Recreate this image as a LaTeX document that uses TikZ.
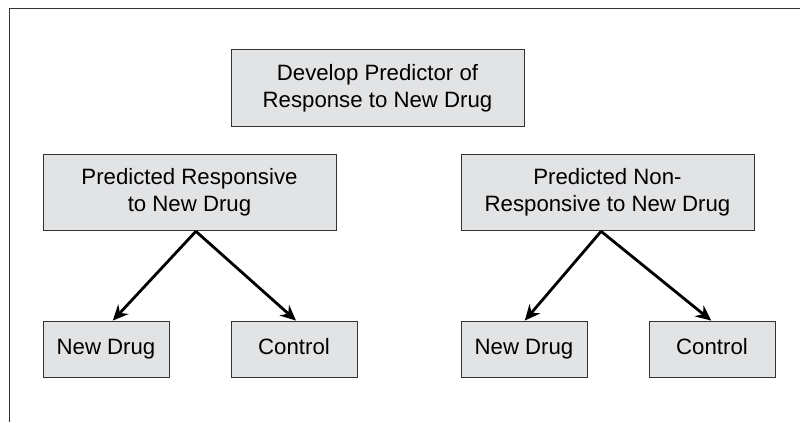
\documentclass[tikz,border=0pt]{standalone}
\usepackage{fontspec}
\setmainfont{Liberation Sans}
\usepackage{tikz}
\usetikzlibrary{arrows.meta}
\definecolor{boxfill}{HTML}{E2E3E5}
\definecolor{boxline}{HTML}{333333}
\tikzset{
  trialbox/.style={draw=boxline, fill=boxfill, line width=0.6pt, align=center,
    inner sep=0pt, font=\fontsize{15.8}{19}\selectfont},
  wide/.style={trialbox, minimum width=7.325cm, minimum height=1.92cm},
  arm/.style={trialbox, minimum width=3.15cm, minimum height=1.4cm,
    text height=0.72em, text depth=0pt},
  split/.style={line width=2pt, -{Stealth[length=11pt, width=10pt]}}
}
\begin{document}
\begin{tikzpicture}
\useasboundingbox (0,0) rectangle (20,10.55);
\draw [boxline, line width=0.6pt] (0.225,0) -- (0.225,10.35) -- (20,10.35);
\node [wide] (predictor) at (9.4375,8.35) {Develop Predictor of\\Response to New Drug};
\node [wide] (resp) at (4.7375,5.7375) {Predicted Responsive\\to New Drug};
\node [wide] (nonresp) at (15.1875,5.7375) {Predicted Non-\\Responsive to New Drug};
\node [arm] (respdrug) at (2.65,1.825) {New Drug};
\node [arm] (respctrl) at (7.35,1.825) {Control};
\node [arm] (nonrespdrug) at (13.1,1.825) {New Drug};
\node [arm] (nonrespctrl) at (17.8,1.825) {Control};
\draw [split] ([xshift=0.16cm]resp.south) -- ([xshift=0.17cm]respdrug.north);
\draw [split] ([xshift=0.16cm]resp.south) -- ([xshift=0.05cm]respctrl.north);
\draw [split] ([xshift=-0.16cm]nonresp.south) -- ([xshift=0.02cm]nonrespdrug.north);
\draw [split] ([xshift=-0.16cm]nonresp.south) -- ([xshift=-0.02cm]nonrespctrl.north);
\end{tikzpicture}
\end{document}
